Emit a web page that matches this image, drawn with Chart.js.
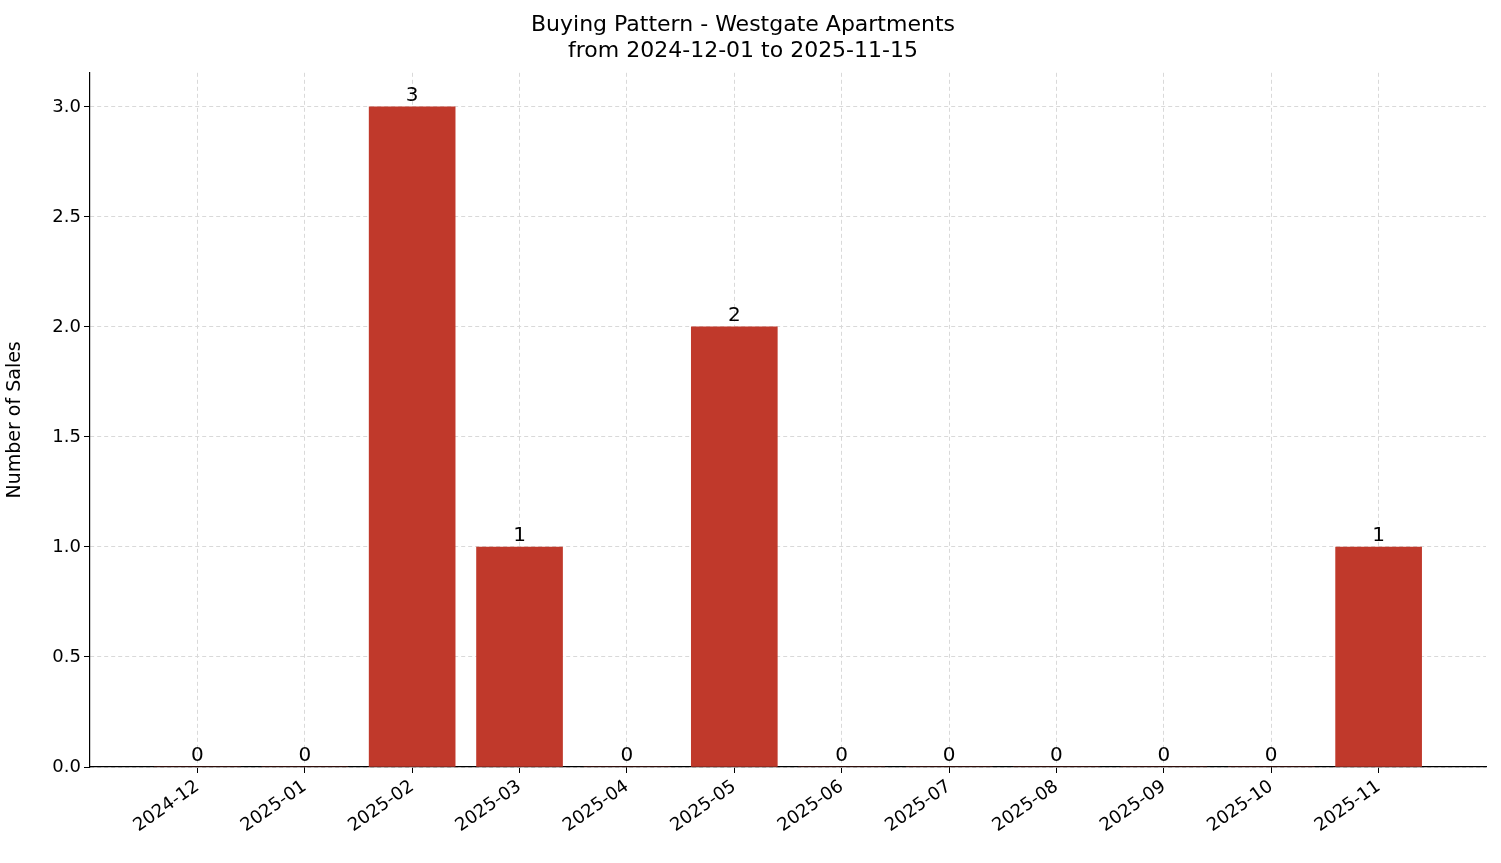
<!DOCTYPE html>
<html>
<head>
<meta charset="utf-8">
<script src="https://cdn.jsdelivr.net/npm/chart.js@4"></script>
<style>
  html, body { margin: 0; padding: 0; background: #fff; }
  #wrap { width: 1501px; height: 863px; }
</style>
</head>
<body>
<div id="wrap"><canvas id="chart"></canvas></div>
<script>
const months = ['2024-12', '2025-01', '2025-02', '2025-03', '2025-04', '2025-05',
                '2025-06', '2025-07', '2025-08', '2025-09', '2025-10', '2025-11'];
const sales = [0, 0, 3, 1, 0, 2, 0, 0, 0, 0, 0, 1];
const yTicks = [0, 0.5, 1, 1.5, 2, 2.5, 3];

const FONT = 'DejaVu Sans';

// value labels above each bar
const barLabels = {
  id: 'barLabels',
  afterDatasetsDraw(chart) {
    const ctx = chart.ctx;
    const meta = chart.getDatasetMeta(0);
    ctx.save();
    ctx.font = '20px ' + FONT;
    ctx.fillStyle = '#000';
    ctx.textAlign = 'center';
    ctx.textBaseline = 'bottom';
    meta.data.forEach((bar, i) => {
      ctx.fillText(String(sales[i]), bar.x, bar.y - 1);
    });
    ctx.restore();
  }
};

new Chart(document.getElementById('chart'), {
  type: 'bar',
  data: {
    datasets: [{
      data: sales.map((v, i) => ({ x: i, y: v })),
      backgroundColor: '#c0392b',
      barThickness: 86
    }]
  },
  options: {
    responsive: true,
    maintainAspectRatio: false,
    animation: false,
    layout: { padding: { top: 0, right: 15, left: 0, bottom: 0 } },
    plugins: {
      legend: { display: false },
      tooltip: { enabled: false },
      title: {
        display: true,
        text: ['Buying Pattern - Westgate Apartments', 'from 2024-12-01 to 2025-11-15'],
        color: '#000',
        font: { family: FONT, size: 22, weight: 'normal', lineHeight: 1.2 },
        padding: { top: 12, bottom: 8 }
      }
    },
    scales: {
      x: {
        type: 'linear',
        offset: false,
        min: -1,
        max: 12,
        afterBuildTicks(axis) {
          axis.ticks = months.map((m, i) => ({ value: i }));
        },
        afterFit(axis) { axis.height = 96; },
        ticks: {
          autoSkip: false,
          minRotation: 35,
          maxRotation: 35,
          color: '#000',
          font: { family: FONT, size: 18 },
          callback: (v) => months[v] ?? ''
        },
        grid: {
          offset: false,
          color: '#d9d9d9',
          tickColor: '#000',
          tickLength: 6
        },
        border: { display: true, color: '#000', width: 1.2, dash: [4, 3] }
      },
      y: {
        min: 0,
        max: 3.155,
        afterBuildTicks(axis) {
          axis.ticks = yTicks.map(v => ({ value: v }));
        },
        afterFit(axis) { axis.width = 90; },
        ticks: {
          color: '#000',
          font: { family: FONT, size: 18 },
          callback: (v) => v.toFixed(1)
        },
        grid: { color: '#d9d9d9', tickColor: '#000', tickLength: 6 },
        border: { display: true, color: '#000', width: 1.2, dash: [4, 3] },
        title: {
          display: true,
          text: 'Number of Sales',
          color: '#000',
          font: { family: FONT, size: 19 }
        }
      }
    }
  },
  plugins: [barLabels]
});
</script>
</body>
</html>
